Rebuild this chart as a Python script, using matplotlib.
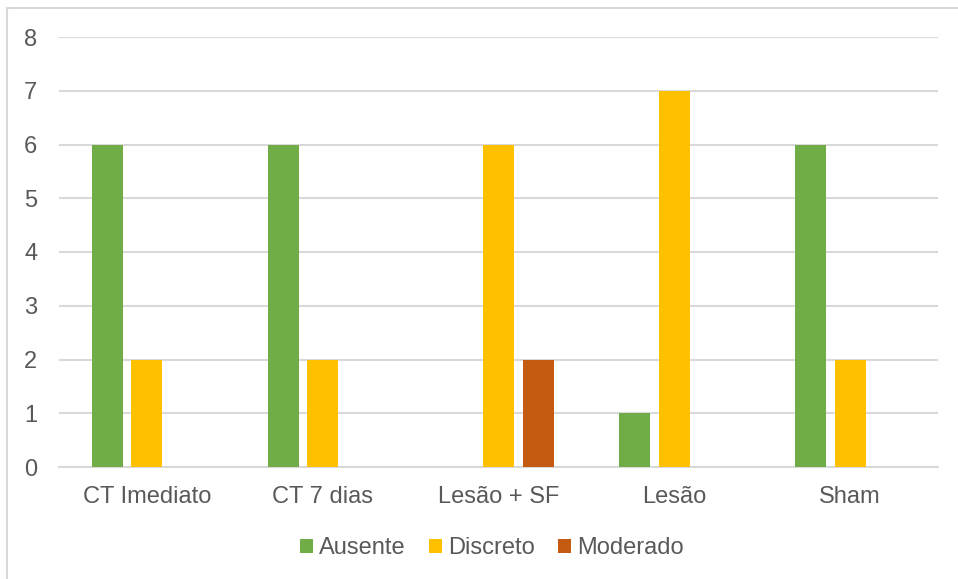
import numpy as np
import matplotlib.pyplot as plt
from matplotlib.patches import Rectangle

categories = ['CT Imediato', 'CT 7 dias', 'Lesão + SF', 'Lesão', 'Sham']
ausente = [6, 6, 0, 1, 6]
discreto = [2, 2, 6, 7, 2]
moderado = [0, 0, 2, 0, 0]

series = [('Ausente', ausente, '#70AD47'),
          ('Discreto', discreto, '#FFC000'),
          ('Moderado', moderado, '#C55A11')]

plt.rcParams['font.family'] = ['Liberation Sans', 'DejaVu Sans']
text_color = '#595959'
grid_color = '#D9D9D9'

fig = plt.figure(figsize=(9.58, 5.79), dpi=100)
ax = fig.add_axes([59 / 958, 1 - 467 / 579, 879 / 958, 430 / 579])

# chart frame (top and left edges visible)
fig.patches.append(Rectangle((7 / 958, -0.5), 2, 0.5 + 1 - 8 / 579,
                             transform=fig.transFigure, fill=False,
                             edgecolor=grid_color, linewidth=1.5))

x = np.arange(len(categories))
width = 0.176
offsets = [-0.225, 0.0, 0.225]
for (name, vals, color), off in zip(series, offsets):
    ax.bar(x + off, vals, width, color=color, label=name, zorder=3)

ax.set_xlim(-0.5, len(categories) - 0.5)
ax.set_ylim(0, 8)
ax.set_yticks(range(0, 9))
ax.yaxis.grid(True, color=grid_color, linewidth=1.5, zorder=0)
ax.set_axisbelow(True)
for s in ['top', 'right', 'left']:
    ax.spines[s].set_visible(False)
ax.spines['bottom'].set_color(grid_color)
ax.spines['bottom'].set_linewidth(1.5)

ax.set_xticks(x)
ax.set_xticklabels(categories)
ax.tick_params(axis='both', length=0, labelsize=17, colors=text_color)
ax.tick_params(axis='y', pad=15.5)
ax.tick_params(axis='x', pad=14)

leg = fig.legend(loc='center', bbox_to_anchor=(492 / 958, 1 - 548 / 579),
                 ncol=3, frameon=False, fontsize=17, handlelength=0.55,
                 handleheight=0.55, handletextpad=0.25, columnspacing=1.0)
for t in leg.get_texts():
    t.set_color(text_color)

fig.savefig('out.png', dpi=100)
